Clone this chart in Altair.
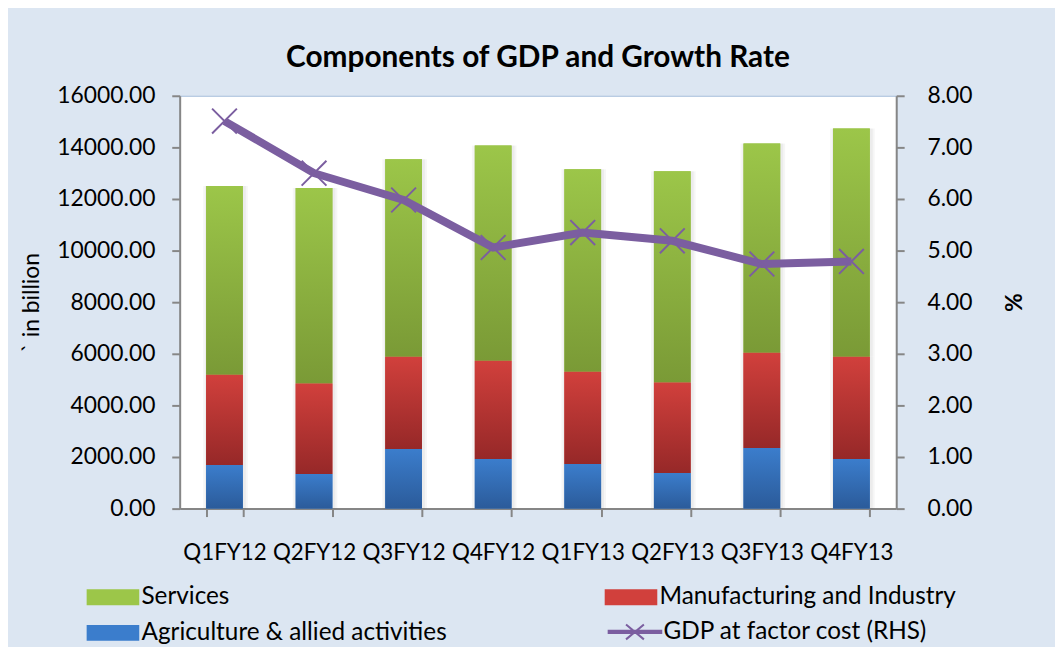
import altair as alt
import pandas as pd

quarters = ["Q1FY12", "Q2FY12", "Q3FY12", "Q4FY12", "Q1FY13", "Q2FY13", "Q3FY13", "Q4FY13"]
agriculture = [1692, 1346, 2308, 1923, 1730, 1385, 2346, 1923]
manufacturing = [3500, 3500, 3576, 3807, 3577, 3499, 3692, 3961]
services = [7308, 7577, 7654, 8347, 7846, 8193, 8116, 8847]
gdp_growth = [7.51, 6.50, 5.98, 5.06, 5.35, 5.19, 4.74, 4.79]

series_names = ["Services", "Agriculture & allied activities", "Manufacturing and Industry"]
line_name = "GDP at factor cost (RHS)"
left_ticks = [0, 2000, 4000, 6000, 8000, 10000, 12000, 14000, 16000]
right_ticks = [0, 1, 2, 3, 4, 5, 6, 7, 8]

top_colors = ["#9cc649", "#3b7dcc", "#d1403c"]
bottom_colors = ["#7a9a36", "#2b5b9a", "#962828"]
line_color = "#7b5ea0"

rows = []
for i, q in enumerate(quarters):
    base = 0
    for name, vals in [("Agriculture & allied activities", agriculture),
                       ("Manufacturing and Industry", manufacturing),
                       ("Services", services)]:
        rows.append({"quarter": q, "series": name, "y0": base, "y1": base + vals[i]})
        base += vals[i]
bars_df = pd.DataFrame(rows)
line_df = pd.DataFrame({"quarter": quarters, "gdp": gdp_growth, "name": [line_name] * len(quarters)})

FONT = "Lato"
x_enc = alt.X("quarter:N", sort=quarters,
              scale=alt.Scale(paddingInner=0.59, paddingOuter=0.295),
              axis=alt.Axis(title=None, labelAngle=0, tickBand="extent", labelFontSize=22.5,
                            labelPadding=25, tickSize=8, tickWidth=2, tickColor="#868686",
                            domainColor="#868686", domainWidth=2, labelColor="#000000", grid=False))
y_enc = alt.Y("y1:Q", stack=None, scale=alt.Scale(domain=[0, 16000]),
              axis=alt.Axis(title="` in billion", values=left_ticks, format=".2f", grid=False,
                            labelFontSize=23, labelPadding=17, tickSize=8, tickWidth=2,
                            tickColor="#868686", domainColor="#868686", domainWidth=2,
                            labelColor="#000000", titleFontSize=23, titleFontWeight="normal",
                            titleColor="#000000", titlePadding=13))

def grad(top, bottom):
    return alt.LinearGradient(gradient="linear",
                              stops=[alt.GradientStop(color=top, offset=0),
                                     alt.GradientStop(color=bottom, offset=1)],
                              x1=0, x2=0, y1=0, y2=1)

shadow1 = alt.Chart(bars_df).mark_bar(size=45, fill="#000000", opacity=0.035, xOffset=1).encode(
    x=x_enc, y=y_enc, y2="y0:Q")
shadow2 = alt.Chart(bars_df).mark_bar(size=41, fill="#000000", opacity=0.04, xOffset=1).encode(
    x=x_enc, y=y_enc, y2="y0:Q")

base_bar = alt.Chart(bars_df).mark_bar().encode(
    x=x_enc, y=y_enc, y2="y0:Q",
    fill=alt.Fill("series:N",
                  scale=alt.Scale(domain=series_names, range=top_colors),
                  legend=alt.Legend(title=None, orient="none", legendX=-96, legendY=493,
                                    columns=2, columnPadding=156, rowPadding=11,
                                    symbolType="M-1,-0.8H4.3V0.8H-1Z", symbolSize=400,
                                    symbolStrokeWidth=0, labelOffset=33, labelFontSize=24.5,
                                    labelColor="#000000", labelLimit=500)),
)
grad_layers = []
for name, t, b in zip(series_names, top_colors, bottom_colors):
    grad_layers.append(
        alt.Chart(bars_df).transform_filter(alt.datum.series == name)
        .mark_bar(fill=grad(t, b)).encode(x=x_enc, y=y_enc, y2="y0:Q")
    )
bars = alt.layer(shadow1, shadow2, base_bar, *grad_layers)

y_right = alt.Y("gdp:Q", scale=alt.Scale(domain=[0, 8]),
                axis=alt.Axis(orient="right", title="%", values=right_ticks, format=".2f", grid=False,
                              labelFontSize=23, labelPadding=23, tickSize=8, tickWidth=2,
                              tickColor="#868686", domainColor="#868686", domainWidth=2,
                              labelColor="#000000", titleFontSize=23, titleFontWeight="bold",
                              titleColor="#000000", titlePadding=28))
line = alt.Chart(line_df).mark_line(strokeWidth=8).encode(
    x=x_enc, y=y_right,
    stroke=alt.Stroke("name:N", scale=alt.Scale(domain=[line_name], range=[line_color]),
                      legend=alt.Legend(title=None, orient="none", legendX=430, legendY=528,
                                        symbolType="M-1,-0.12H4.3V0.12H-1Z M0.75,-0.75L2.55,0.75 M0.75,0.75L2.55,-0.75",
                                        symbolSize=400, symbolStrokeWidth=2, symbolFillColor=line_color,
                                        symbolStrokeColor=line_color,
                                        labelOffset=33, labelFontSize=24.5, labelColor="#000000",
                                        labelLimit=500)),
)
points = alt.Chart(line_df).mark_point(shape="M-1,-1L1,1M-1,1L1,-1", size=625, strokeWidth=2,
                                       filled=False, color=line_color, opacity=1).encode(
    x=x_enc, y=y_right)
lines = alt.layer(line, points)

chart = alt.layer(bars, lines).resolve_scale(y="independent").properties(
    width=722, height=416,
    title=alt.Title("Components of GDP and Growth Rate", fontSize=30, font=FONT,
                    fontWeight="bold", color="#000000", offset=12, anchor="middle"),
    autosize=alt.AutoSizeParams(type="none"),
    padding={"left": 173, "top": 86, "right": 160, "bottom": 137},
).configure(background="#dce6f2", font=FONT).configure_view(
    fill="#ffffff", stroke="#a6bddb", strokeWidth=1
)

chart.save("out.html", embed_options={"renderer": "svg", "actions": False})
